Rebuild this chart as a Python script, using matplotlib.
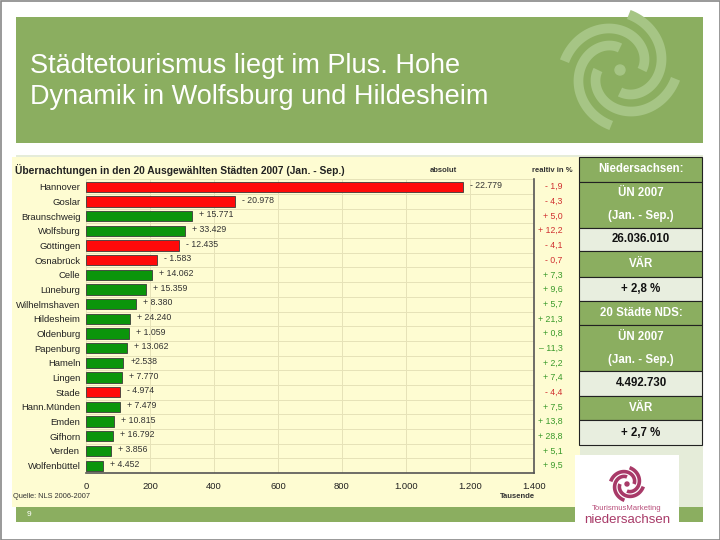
import matplotlib
matplotlib.use("Agg")
import matplotlib.pyplot as plt
import numpy as np
from matplotlib.patches import Rectangle, Circle

plt.rcParams['font.family'] = ['Liberation Sans', 'DejaVu Sans']

# overnight stays 2007 (Jan - Sep), thousands
cities = ["Hannover", "Goslar", "Braunschweig", "Wolfsburg", "Göttingen", "Osnabrück",
          "Celle", "Lüneburg", "Wilhelmshaven", "Hildesheim", "Oldenburg", "Papenburg",
          "Hameln", "Lingen", "Stade", "Hann.Münden", "Emden", "Gifhorn", "Verden",
          "Wolfenbüttel"]
stays = [1177, 467, 331, 308, 291, 221, 207, 187, 157, 139, 133, 128, 117, 114,
         106, 106, 89, 84, 79, 52]
abs_change = ["- 22.779", "- 20.978", "+ 15.771", "+ 33.429", "- 12.435", "- 1.583",
              "+ 14.062", "+ 15.359", "+ 8.380", "+ 24.240", "+ 1.059", "+ 13.062",
              "+2.538", "+ 7.770", "- 4.974", "+ 7.479", "+ 10.815", "+ 16.792",
              "+ 3.856", "+ 4.452"]
rel_change = ["- 1,9", "- 4,3", "+ 5,0", "+ 12,2", "- 4,1", "- 0,7", "+ 7,3", "+ 9,6",
              "+ 5,7", "+ 21,3", "+ 0,8", "\u2013 11,3", "+ 2,2", "+ 7,4", "- 4,4", "+ 7,5",
              "+ 13,8", "+ 28,8", "+ 5,1", "+ 9,5"]
rel_colors = ["#d03030"] * 6 + ["#3a9a2a"] * 8 + ["#d03030"] + ["#3a9a2a"] * 5
xticks = [0, 200, 400, 600, 800, 1000, 1200, 1400]
xtick_labels = ["0", "200", "400", "600", "800", "1.000", "1.200", "1.400"]

# side table cells: (lines, green header cell?)
table_cells = [(["Niedersachsen:"], True), (["ÜN 2007", "(Jan. - Sep.)"], True),
               (["26.036.010"], False), (["VÄR"], True), (["+ 2,8 %"], False),
               (["20 Städte NDS:"], True), (["ÜN 2007", "(Jan. - Sep.)"], True),
               (["4.492.730"], False), (["VÄR"], True), (["+ 2,7 %"], False)]
cell_y = [157, 182, 228, 251, 277, 301, 325, 371, 396, 420, 445]

GREEN = "#8bae60"
fig = plt.figure(figsize=(7.2, 5.4), dpi=100)

# background layer in pixel coordinates
bg = fig.add_axes([0, 0, 1, 1], zorder=0)
bg.set_xlim(0, 720)
bg.set_ylim(540, 0)
bg.axis('off')


def swirl(cx, cy, r0, r1, lw, color, dot):
    # four spiral arms around a centre dot
    t = np.linspace(0, np.pi * 0.95, 60)
    r = r0 + (r1 - r0) * t / np.pi
    for k in range(4):
        th = t + k * np.pi / 2
        bg.plot(cx + r * np.cos(th), cy - r * np.sin(th), color=color, lw=lw,
                solid_capstyle='butt')
    bg.add_patch(Circle((cx, cy), dot, color=color))


bg.add_patch(Rectangle((0.5, 0.5), 719, 539, fc='white', ec='#888888', lw=1.2))
bg.add_patch(Rectangle((16, 17), 687, 126, fc=GREEN, ec='none'))
bg.add_patch(Rectangle((16, 155), 687, 352, fc='#e5ecd9', ec='none'))
bg.add_patch(Rectangle((16, 507), 687, 15, fc=GREEN, ec='none'))
bg.text(30, 66, "Städtetourismus liegt im Plus. Hohe", color='white', fontsize=19.5, va='center')
bg.text(30, 97, "Dynamik in Wolfsburg und Hildesheim", color='white', fontsize=19.5, va='center')
bg.text(27, 514, "9", color='white', fontsize=6, va='center')
swirl(620, 70, 22, 58, 7, "#a6c585", 5)

# chart panel
bg.add_patch(Rectangle((12, 157), 568, 350, fc='#fefcd2', ec='none'))
bg.text(15, 170, "Übernachtungen in den 20 Ausgewählten Städten 2007 (Jan. - Sep.)",
        fontsize=7.4, fontweight='bold', va='center', color='#222222')
bg.text(443, 171, "absolut", fontsize=5.5, fontweight='bold', ha='center', va='center', color='#333333')
bg.text(552, 171, "realtiv in %", fontsize=5.5, fontweight='bold', ha='center', va='center', color='#333333')
bg.text(517, 497, "Tausende", fontsize=5.5, fontweight='bold', ha='center', va='center', color='#333333')
bg.text(13, 497, "Quelle: NLS 2006-2007", fontsize=5.3, va='center', color='#333333')

# side table
for (lines, head), y0, y1 in zip(table_cells, cell_y[:-1], cell_y[1:]):
    bg.add_patch(Rectangle((579, y0), 123, y1 - y0, fc=GREEN if head else '#e8eedf',
                           ec='#222222', lw=0.8))
    step = (y1 - y0) / len(lines)
    for j, txt in enumerate(lines):
        bg.text(641, y0 + step * (j + 0.5), txt, ha='center', va='center', fontsize=8.3,
                color='white' if head else '#111111', fontweight='bold')

# bottom-right logo
bg.add_patch(Rectangle((575, 455), 104, 75, fc='white', ec='none'))
swirl(627, 484, 7, 17, 2.6, "#a83a68", 2)
bg.text(627, 509, "TourismusMarketing", ha='center', va='center', fontsize=5.6, color='#b9507c')
bg.text(627, 520, "niedersachsen", ha='center', va='center', fontsize=9.5, color="#a83a68")

# bar chart
ax = fig.add_axes([86 / 720, (540 - 473) / 540, 448 / 720, 293.6 / 540], zorder=1)
ax.set_facecolor('none')
ypos = np.arange(len(cities))
bar_colors = ["#ff0a0a" if r.startswith("-") else "#0b950b" for r in rel_change]
ax.barh(ypos, stays, height=0.7, color=bar_colors, edgecolor='#3a3a3a', lw=0.6, zorder=3)
ax.set_xlim(0, 1400)
ax.set_ylim(len(cities) - 0.5, -0.5)
ax.set_xticks(xticks)
ax.set_xticklabels(xtick_labels, fontsize=6.8, color='#222222')
ax.set_yticks(ypos)
ax.set_yticklabels(cities, fontsize=6.8, color='#222222')
ax.set_yticks(np.arange(-0.5, len(cities), 1), minor=True)
ax.tick_params(axis='both', length=0, which='both')
ax.tick_params(axis='x', pad=6.5)
ax.tick_params(axis='y', pad=4)
ax.grid(axis='x', color='#e6e2b8', lw=0.7, zorder=0)
ax.grid(axis='y', which='minor', color='#e6e2b8', lw=0.7, zorder=0)
ax.grid(axis='y', which='major', visible=False)
for s in ['top', 'left']:
    ax.spines[s].set_visible(False)
for s in ['right', 'bottom']:
    ax.spines[s].set_color('#555555')
    ax.spines[s].set_linewidth(1.2)

for i, v in enumerate(stays):
    ax.annotate(abs_change[i], (v, i), xytext=(5, 1), textcoords='offset points',
                fontsize=6.3, color='#333333', va='center')
    ax.text(1490, i, rel_change[i], ha='right', va='center', fontsize=6.3,
            color=rel_colors[i], clip_on=False)

fig.savefig("out.png", dpi=100)
